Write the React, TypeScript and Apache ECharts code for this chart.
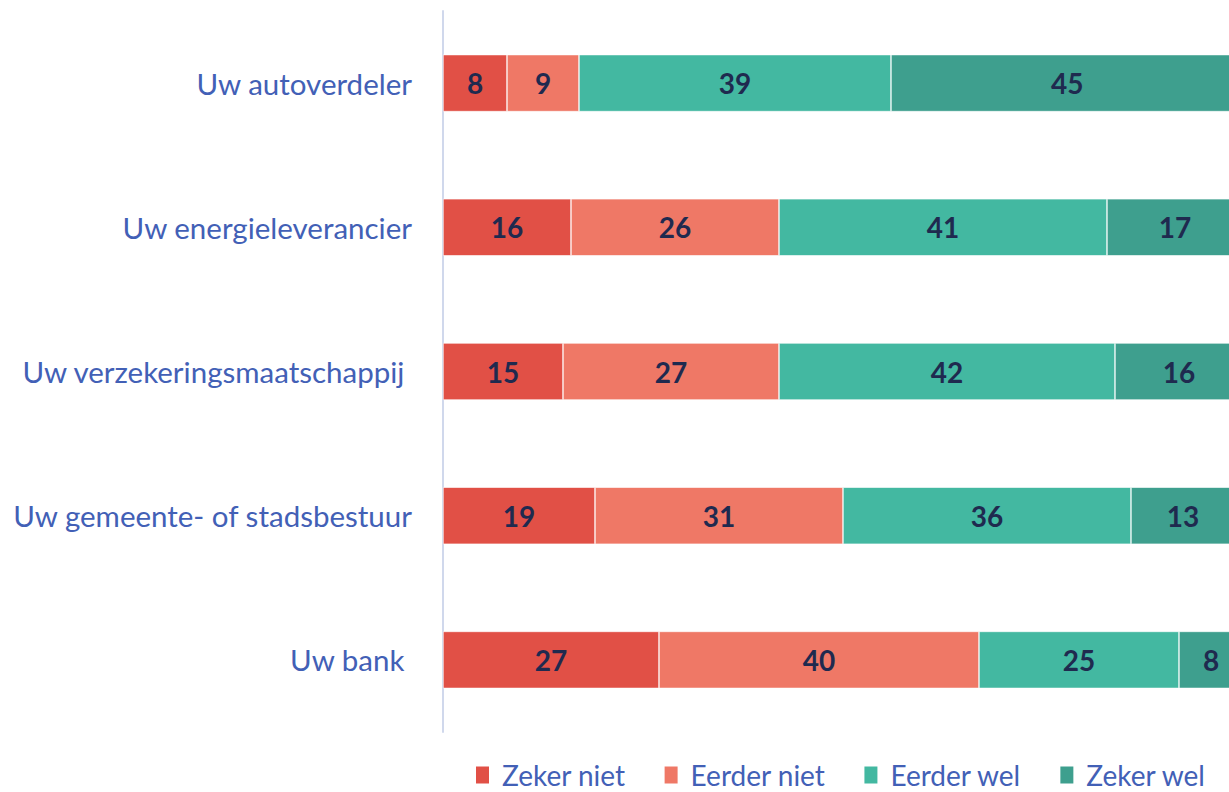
import React, { useEffect, useRef } from "react";
import * as echarts from "echarts";

const categories = [
  "Uw autoverdeler",
  "Uw energieleverancier",
  "Uw verzekeringsmaatschappij ",
  "Uw gemeente- of stadsbestuur",
  "Uw bank ",
];
const seriesNames = ["Zeker niet", "Eerder niet", "Eerder wel", "Zeker wel"];
const zekerNiet = [8, 16, 15, 19, 27];
const eerderNiet = [9, 26, 27, 31, 40];
const eerderWel = [39, 41, 42, 36, 25];
const zekerWel = [45, 17, 16, 13, 8];
const colors = ["#E15046", "#EF7866", "#43B8A1", "#3E9F8E"];

export default function App() {
  const ref = useRef<HTMLDivElement>(null);
  useEffect(() => {
    document.body.style.margin = "0";
    const chart = echarts.init(ref.current!, null, { renderer: "svg" });
    const dataSets = [zekerNiet, eerderNiet, eerderWel, zekerWel];
    chart.setOption({
      animation: false,
      grid: {
        left: 443,
        top: 11,
        width: 800,
        height: 721,
        containLabel: false,
        outerBoundsMode: "none",
      },
      legend: {
        data: seriesNames,
        top: 756,
        left: 469,
        itemWidth: 15,
        itemHeight: 19,
        itemGap: 37,
        icon: "rect",
        textStyle: {
          color: "#4260B6",
          fontSize: 28,
          fontFamily: "Lato",
          padding: [0, 0, 0, 7],
        },
      },
      xAxis: {
        type: "value",
        min: 0,
        max: 100,
        show: false,
      },
      yAxis: {
        type: "category",
        data: categories,
        inverse: true,
        axisLine: { show: true, lineStyle: { color: "#D0D8EC", width: 2 } },
        axisTick: { show: false },
        axisLabel: {
          color: "#4260B6",
          fontSize: 29.5,
          fontFamily: "Lato",
          margin: 31,
        },
      },
      series: seriesNames.map((name, i) => ({
        name,
        type: "bar",
        stack: "total",
        barWidth: 57,
        data: dataSets[i],
        itemStyle: { color: colors[i], borderColor: "#ffffff", borderWidth: 0.6 },
        label: {
          show: true,
          position: "inside",
          color: "#1F2A4F",
          fontSize: 28,
          fontWeight: "bold",
          fontFamily: "Lato",
        },
      })),
    });
    return () => chart.dispose();
  }, []);
  return <div ref={ref} style={{ width: 1229, height: 792 }} />;
}
